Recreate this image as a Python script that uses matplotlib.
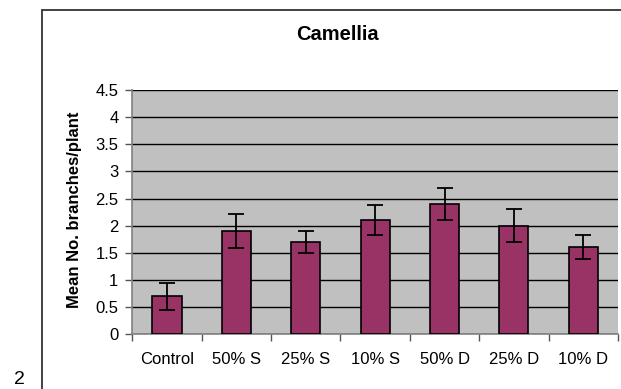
import numpy as np
import matplotlib
matplotlib.use("Agg")
import matplotlib.pyplot as plt
from matplotlib.patches import Rectangle

plt.rcParams['font.family'] = ['Liberation Sans', 'DejaVu Sans']

# Data
categories = ['Control', '50% S', '25% S', '10% S', '50% D', '25% D', '10% D']
means = [0.7, 1.9, 1.7, 2.1, 2.4, 2.0, 1.6]
errors = [0.25, 0.31, 0.21, 0.28, 0.30, 0.30, 0.22]
yticks = [0, 0.5, 1, 1.5, 2, 2.5, 3, 3.5, 4, 4.5]

W, H = 621, 389
fig = plt.figure(figsize=(W / 100, H / 100), dpi=100)

# outer chart frame (runs off the right and bottom edges)
fig.patches.append(Rectangle((42 / W, -0.1), 1.2, 1 - 10 / H + 0.1,
                             transform=fig.transFigure, fill=False,
                             edgecolor='#333333', lw=1.3))

ax = fig.add_axes([132.3 / W, 1 - 334.3 / H, (618 - 132.3) / W, (334.3 - 90) / H])
ax.set_facecolor('#C0C0C0')

x = np.arange(len(categories))
ax.bar(x, means, width=0.42, color='#993366', edgecolor='black', lw=1.2, zorder=3)
ax.errorbar(x, means, yerr=errors, fmt='none', ecolor='black', elinewidth=1.3,
            capsize=5.5, capthick=1.3, zorder=4)

ax.set_xlim(-0.5, len(categories) - 0.5)
ax.set_ylim(0, 4.5)
ax.set_yticks(yticks)
ax.set_yticklabels([f'{t:g}' for t in yticks], fontsize=12)
ax.yaxis.grid(True, color='black', lw=1, zorder=1)
ax.set_axisbelow(True)

ax.set_xticks(x)
ax.set_xticklabels(categories, fontsize=12)
ax.set_xticks(np.arange(-0.5, len(categories)), minor=True)
ax.tick_params(axis='x', which='major', length=0, pad=13)
ax.tick_params(axis='x', which='minor', length=5, width=1, direction='out', color='#555555')
ax.tick_params(axis='y', length=5, width=1, direction='out', pad=5, color='#555555')

for s in ['top', 'right']:
    ax.spines[s].set_visible(False)
for s in ['left', 'bottom']:
    ax.spines[s].set_color('#808080')
    ax.spines[s].set_linewidth(1.2)

ax.set_ylabel('Mean No. branches/plant', fontsize=12, fontweight='bold')
ax.yaxis.label.set_va('center')
ax.yaxis.set_label_coords((75 - 132.3) / (618 - 132.3), 0.51)

fig.text(337 / W, 1 - 35 / H, 'Camellia', ha='center', va='center',
         fontsize=14.5, fontweight='bold')
# page number peeking in at the bottom-left corner
fig.text(19 / W, 1 / H, '2', ha='center', va='bottom', fontsize=14)

fig.savefig('out.png', dpi=100)
